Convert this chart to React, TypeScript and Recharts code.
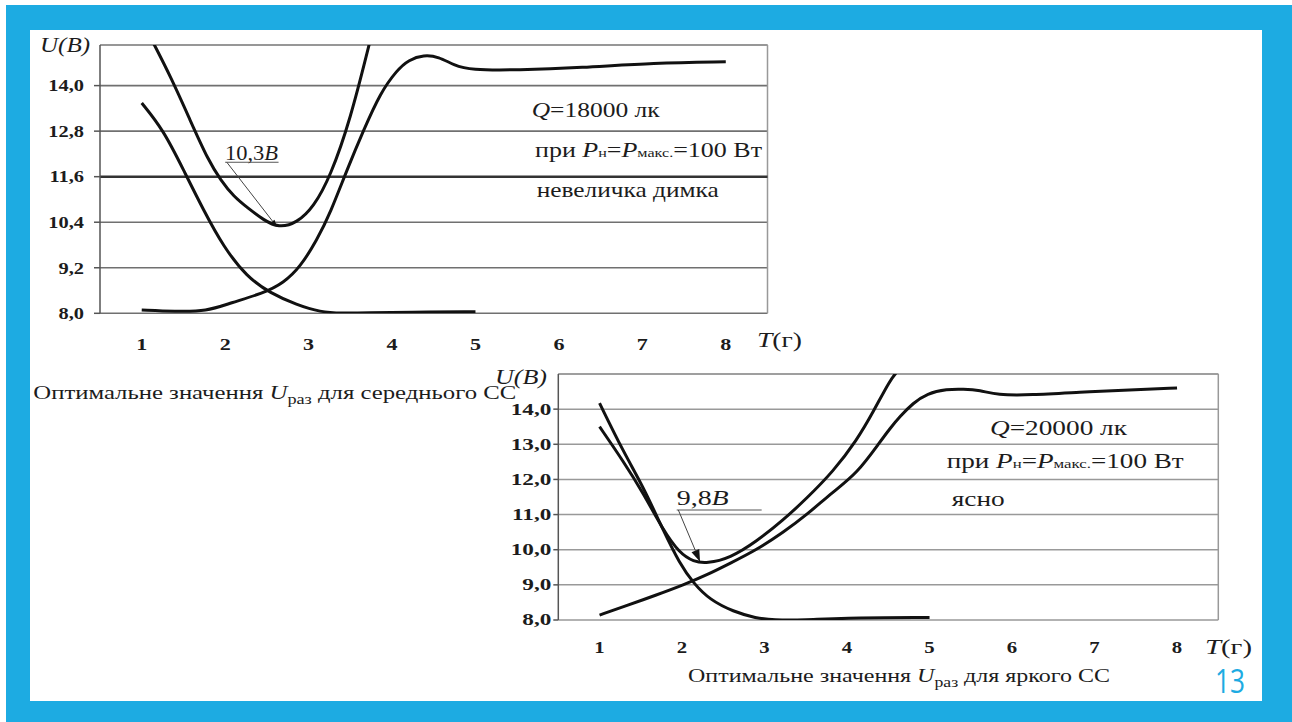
import React from 'react';
import { LineChart, Line, XAxis, YAxis, CartesianGrid, ReferenceLine } from 'recharts';

// ---------- shared ----------
const categories = [1, 2, 3, 4, 5, 6, 7, 8];
const bandEdges = [0.5, 1.5, 2.5, 3.5, 4.5, 5.5, 6.5, 7.5, 8.5];

// ---------- chart 1: Q = 18000 lx, light haze ----------
const c1YTicks = [8.0, 9.2, 10.4, 11.6, 12.8, 14.0];
const c1YMax = 15.07;
// V-shaped curve (minimum 10.3 V)
const c1VX = [1.14, 1.35, 1.58, 1.8, 1.95, 2.1, 2.28, 2.46, 2.64, 2.86, 3.06, 3.26, 3.5, 3.73];
const c1VY = [15.12, 14.22, 13.09, 12.02, 11.5, 11.08, 10.76, 10.46, 10.25, 10.38, 10.8, 11.6, 13.1, 15.12];
// descending curve
const c1DX = [1.0, 1.26, 1.5, 1.74, 1.98, 2.26, 2.54, 2.86, 3.14, 3.4, 3.7, 4.2, 5.0];
const c1DY = [13.54, 12.83, 11.78, 10.72, 9.75, 8.96, 8.53, 8.22, 8.03, 8.0, 8.01, 8.03, 8.04];
// rising curve
const c1RX = [1.0, 1.4, 1.78, 2.06, 2.46, 2.7, 2.9, 3.1, 3.26, 3.46, 3.66, 3.86, 4.06, 4.2, 4.38, 4.56, 4.74, 4.94, 5.5, 6.26, 7.14, 8.0];
const c1RY = [8.09, 8.05, 8.05, 8.27, 8.53, 8.8, 9.22, 9.93, 10.64, 11.78, 12.83, 13.81, 14.41, 14.68, 14.81, 14.76, 14.54, 14.41, 14.41, 14.47, 14.6, 14.63];
// annotation "10,3B"
const c1NoteX = [2.0, 2.64];
const c1NoteY = 11.98;
const c1ArrowTip = { x: 2.62, y: 10.28 };

// ---------- chart 2: Q = 20000 lx, clear ----------
const c2YTicks = [8.0, 9.0, 10.0, 11.0, 12.0, 13.0, 14.0];
const c2YMax = 15.0;
const c2DX = [1.0, 1.29, 1.53, 1.77, 1.97, 2.14, 2.34, 2.62, 2.9, 3.1, 3.5, 3.9, 5.0];
const c2DY = [14.17, 12.78, 11.79, 10.56, 9.61, 9.04, 8.57, 8.24, 8.05, 8.0, 8.0, 8.06, 8.07];
const c2VX = [1.0, 1.29, 1.53, 1.77, 1.97, 2.14, 2.3, 2.58, 2.9, 3.23, 3.51, 3.83, 4.12, 4.32, 4.52, 4.62];
const c2VY = [13.5, 12.51, 11.61, 10.56, 9.9, 9.66, 9.61, 9.76, 10.23, 10.85, 11.46, 12.22, 13.12, 13.93, 14.83, 15.1];
const c2RX = [1.0, 1.29, 1.69, 2.02, 2.3, 2.58, 2.9, 3.23, 3.51, 3.83, 4.12, 4.4, 4.52, 4.64, 4.8, 4.97, 5.21, 5.41, 5.61, 5.82, 6.22, 6.82, 7.43, 8.0];
const c2RY = [8.14, 8.38, 8.71, 9.0, 9.28, 9.61, 9.99, 10.5, 10.99, 11.65, 12.17, 13.07, 13.45, 13.79, 14.17, 14.45, 14.57, 14.57, 14.54, 14.4, 14.4, 14.48, 14.55, 14.6];
const c2NoteX = [1.935, 2.965];
const c2NoteY = 11.13;
const c2ArrowTip = { x: 2.218, y: 9.66 };

const zip = (xs: number[], ys: number[]) => xs.map((x, i) => ({ x, y: ys[i] }));

const SERIF = '"Liberation Serif", "Times New Roman", serif';
const CYAN = '#1DABE2';
const INK = '#1c1c1c';

const YTick = (props: any) => {
  const { x, y, payload, fs, sx } = props;
  return (
    <text
      transform={`translate(${x},${y}) scale(${sx},1)`}
      x={0}
      y={fs * 0.34}
      textAnchor="end"
      fontSize={fs}
      fontWeight="bold"
      fontFamily={SERIF}
      fill={INK}
    >
      {Number(payload.value).toFixed(1).replace('.', ',')}
    </text>
  );
};

const XTick = (props: any) => {
  const { x, y, payload, fs, sx } = props;
  return (
    <text
      transform={`translate(${x},${y}) scale(${sx},1)`}
      x={0}
      y={fs * 0.68}
      textAnchor="middle"
      fontSize={fs}
      fontWeight="bold"
      fontFamily={SERIF}
      fill={INK}
    >
      {payload.value}
    </text>
  );
};

const NoTick = () => <g />;

const ArrowShape = (props: any) => {
  const { x1, y1, x2, y2, head } = props;
  const a = Math.atan2(y2 - y1, x2 - x1);
  const L = head;
  const W = head * 0.35;
  const bx = x2 - L * Math.cos(a);
  const by = y2 - L * Math.sin(a);
  const p1 = `${bx + W * Math.sin(a)},${by - W * Math.cos(a)}`;
  const p2 = `${bx - W * Math.sin(a)},${by + W * Math.cos(a)}`;
  return (
    <g>
      <line x1={x1} y1={y1} x2={bx} y2={by} stroke="#444" strokeWidth={1} />
      <polygon points={`${x2},${y2} ${p1} ${p2}`} fill="#111" />
    </g>
  );
};

type ChartProps = {
  width: number;
  height: number;
  margin: any;
  yWidth: number;
  yMax: number;
  yTicks: number[];
  ySize: number;
  yMargin: number;
  yFs: number;
  ySx: number;
  xMargin: number;
  xFs: number;
  xSx: number;
  gridColor: string;
  gridWidth: number;
  series: { x: number; y: number }[][];
  noteX: number[];
  noteY: number;
  tip: { x: number; y: number };
  head: number;
  darkLine?: number;
};

const Chart = (p: ChartProps) => (
  <LineChart width={p.width} height={p.height} margin={p.margin}>
    <CartesianGrid xAxisId="l" horizontal vertical={false} stroke={p.gridColor} strokeWidth={p.gridWidth} />
    <XAxis
      xAxisId="m"
      type="number"
      dataKey="x"
      domain={[0.5, 8.5]}
      ticks={bandEdges}
      interval={0}
      height={0}
      tick={NoTick}
      tickSize={6}
      tickLine={{ stroke: '#333', strokeWidth: 1.5 }}
      axisLine={{ stroke: '#222', strokeWidth: 2 }}
      allowDataOverflow
    />
    <XAxis
      xAxisId="l"
      type="number"
      dataKey="x"
      domain={[0.5, 8.5]}
      ticks={categories}
      interval={0}
      height={40}
      tickLine={false}
      axisLine={false}
      tickSize={6}
      tickMargin={p.xMargin}
      tick={<XTick fs={p.xFs} sx={p.xSx} />}
      allowDataOverflow
    />
    <YAxis
      type="number"
      domain={[8, p.yMax]}
      ticks={p.yTicks}
      interval={0}
      width={p.yWidth}
      tickSize={p.ySize}
      tickMargin={p.yMargin}
      tickLine={{ stroke: '#555', strokeWidth: 1.5 }}
      axisLine={{ stroke: '#555', strokeWidth: 1.5 }}
      tick={<YTick fs={p.yFs} sx={p.ySx} />}
      allowDataOverflow
    />
    <ReferenceLine xAxisId="l" y={p.yMax} stroke="#999" strokeWidth={1.5} />
    <ReferenceLine xAxisId="l" x={8.5} stroke="#999" strokeWidth={1.5} />
    {p.darkLine !== undefined && (
      <ReferenceLine xAxisId="l" y={p.darkLine} stroke="#333" strokeWidth={2.5} />
    )}
    {p.series.map((d, i) => (
      <Line
        key={i}
        xAxisId="l"
        data={d}
        dataKey="y"
        type="basis"
        stroke="#111"
        strokeWidth={3}
        dot={false}
        activeDot={false}
        isAnimationActive={false}
      />
    ))}
    <ReferenceLine
      xAxisId="l"
      segment={[{ x: p.noteX[0], y: p.noteY }, { x: p.noteX[1], y: p.noteY }]}
      stroke="#555"
      strokeWidth={1}
    />
    <ReferenceLine
      xAxisId="l"
      segment={[{ x: p.noteX[0] + 0.02, y: p.noteY }, { x: p.tip.x, y: p.tip.y }]}
      shape={(sp: any) => <ArrowShape {...sp} head={p.head} />}
    />
  </LineChart>
);

const T = (props: any) => <text fontFamily={SERIF} fill={INK} lengthAdjust="spacingAndGlyphs" {...props} />;

export default function App() {
  return (
    <div style={{ position: 'absolute', left: 0, top: 0, width: 1292, height: 722, background: '#fff', overflow: 'hidden' }}>
      <div style={{ position: 'absolute', left: 6, top: 5, width: 1286, height: 717, background: CYAN }} />
      <div style={{ position: 'absolute', left: 30, top: 30, width: 1232, height: 671, background: '#fff' }} />

      <div style={{ position: 'absolute', left: 0, top: 0 }}>
        <Chart
          width={800}
          height={400}
          margin={{ top: 45, right: 32.5, bottom: 46.7, left: 0 }}
          yWidth={100}
          yMax={c1YMax}
          yTicks={c1YTicks}
          ySize={6}
          yMargin={10}
          yFs={17}
          ySx={1.2}
          xMargin={19}
          xFs={17}
          xSx={1.3}
          gridColor="#707070"
          gridWidth={1.6}
          series={[zip(c1VX, c1VY), zip(c1DX, c1DY), zip(c1RX, c1RY)]}
          noteX={c1NoteX}
          noteY={c1NoteY}
          tip={c1ArrowTip}
          head={7}
          darkLine={11.6}
        />
      </div>

      <div style={{ position: 'absolute', left: 400, top: 330 }}>
        <Chart
          width={880}
          height={360}
          margin={{ top: 44, right: 61.7, bottom: 30, left: 0 }}
          yWidth={158.3}
          yMax={c2YMax}
          yTicks={c2YTicks}
          ySize={5}
          yMargin={2}
          yFs={16}
          ySx={1.45}
          xMargin={16}
          xFs={16}
          xSx={1.3}
          gridColor="#999"
          gridWidth={1.5}
          series={[zip(c2DX, c2DY), zip(c2VX, c2VY), zip(c2RX, c2RY)]}
          noteX={c2NoteX}
          noteY={c2NoteY}
          tip={c2ArrowTip}
          head={12}
        />
      </div>

      <svg width={1292} height={722} style={{ position: 'absolute', left: 0, top: 0, pointerEvents: 'none' }}>
        {/* chart 1 texts */}
        <T x={40} y={52} fontSize={21} fontStyle="italic" textLength={50}>U(B)</T>
        <T x={757} y={347} fontSize={21} textLength={45}>
          <tspan fontStyle="italic">T</tspan>(г)
        </T>
        <T x={531.7} y={117} fontSize={21} textLength={128}>
          <tspan fontStyle="italic">Q</tspan>=18000 лк
        </T>
        <T x={535} y={156.5} fontSize={21} textLength={227}>
          при <tspan fontStyle="italic">P</tspan><tspan fontSize={13}>н</tspan>=<tspan fontStyle="italic">P</tspan><tspan fontSize={13}>макс.</tspan>=100 Вт
        </T>
        <T x={536.7} y={196.5} fontSize={21} textLength={182}>невеличка димка</T>
        <T x={225} y={159.5} fontSize={21} textLength={53}>
          10,3<tspan fontStyle="italic">B</tspan>
        </T>
        <T x={33.3} y={399} fontSize={19} textLength={483}>
          Оптимальне значення <tspan fontStyle="italic">U</tspan><tspan fontSize={14} dy={5}>раз</tspan><tspan dy={-5}> для середнього СС</tspan>
        </T>

        {/* chart 2 texts */}
        <T x={495} y={383.5} fontSize={21} fontStyle="italic" textLength={52}>U(B)</T>
        <T x={1205} y={653.5} fontSize={21} textLength={47}>
          <tspan fontStyle="italic">T</tspan>(г)
        </T>
        <T x={990} y={435} fontSize={21} textLength={137}>
          <tspan fontStyle="italic">Q</tspan>=20000 лк
        </T>
        <T x={946.7} y={468.3} fontSize={21} textLength={237}>
          при <tspan fontStyle="italic">P</tspan><tspan fontSize={13}>н</tspan>=<tspan fontStyle="italic">P</tspan><tspan fontSize={13}>макс.</tspan>=100 Вт
        </T>
        <T x={951.7} y={505.7} fontSize={21} textLength={53}>ясно</T>
        <T x={676.7} y={505} fontSize={21} textLength={52}>
          9,8<tspan fontStyle="italic">B</tspan>
        </T>
        <T x={688} y={681.7} fontSize={19} textLength={422}>
          Оптимальне значення <tspan fontStyle="italic">U</tspan><tspan fontSize={14} dy={5}>раз</tspan><tspan dy={-5}> для яркого СС</tspan>
        </T>

        <text x={1215} y={693} fontSize={33} fontFamily='"Open Sans", sans-serif' fill={CYAN} textLength={30} lengthAdjust="spacingAndGlyphs">13</text>
      </svg>
    </div>
  );
}
